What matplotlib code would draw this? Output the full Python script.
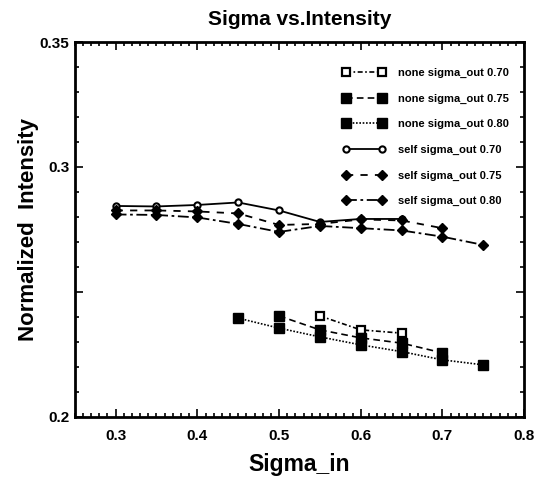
# Sigma vs. Intensity - normalized intensity against sigma_in

import matplotlib.pyplot as plt
from matplotlib.ticker import MultipleLocator

plt.rcParams['font.family'] = ['Liberation Sans', 'DejaVu Sans']
plt.rcParams['font.weight'] = 'bold'

# none (no correction) series
none_x_070 = [0.55, 0.60, 0.65]
none_y_070 = [0.2404, 0.2348, 0.2335]
none_x_075 = [0.50, 0.55, 0.60, 0.65, 0.70]
none_y_075 = [0.2404, 0.2348, 0.2316, 0.2295, 0.2256]
none_x_080 = [0.45, 0.50, 0.55, 0.60, 0.65, 0.70, 0.75]
none_y_080 = [0.2395, 0.2355, 0.2320, 0.2288, 0.2261, 0.2228, 0.2208]

# self series
self_x_070 = [0.30, 0.35, 0.40, 0.45, 0.50, 0.55, 0.60, 0.65]
self_y_070 = [0.2844, 0.2842, 0.2848, 0.2858, 0.2826, 0.2780, 0.2792, 0.2792]
self_x_075 = [0.30, 0.35, 0.40, 0.45, 0.50, 0.55, 0.60, 0.65, 0.70]
self_y_075 = [0.2826, 0.2826, 0.2822, 0.2814, 0.2768, 0.2772, 0.2790, 0.2786, 0.2755]
self_x_080 = [0.30, 0.35, 0.40, 0.45, 0.50, 0.55, 0.60, 0.65, 0.70, 0.75]
self_y_080 = [0.2810, 0.2808, 0.2798, 0.2772, 0.2740, 0.2764, 0.2755, 0.2746, 0.2721, 0.2688]

labels = ['none sigma_out 0.70', 'none sigma_out 0.75', 'none sigma_out 0.80',
          'self sigma_out 0.70', 'self sigma_out 0.75', 'self sigma_out 0.80']

fig = plt.figure(figsize=(5.42, 4.78), dpi=100)
ax = fig.add_axes([0.138, 0.128, 0.829, 0.784])

k = 'black'
ax.plot(none_x_070, none_y_070, color=k, lw=1.2, ls=(0, (3, 1.5, 1, 1.5)), marker='s',
        ms=5.5, mfc='white', mec=k, mew=1.6, label=labels[0])
ax.plot(none_x_075, none_y_075, color=k, lw=1.2, ls=(0, (4, 2.5)), marker='s',
        ms=7, mfc=k, mec=k, label=labels[1])
ax.plot(none_x_080, none_y_080, color=k, lw=1.2, ls=(0, (1, 1)), marker='s',
        ms=7, mfc=k, mec=k, label=labels[2])
ax.plot(self_x_070, self_y_070, color=k, lw=1.3, ls='-', marker='o',
        ms=4.5, mfc='white', mec=k, mew=1.5, label=labels[3])
ax.plot(self_x_075, self_y_075, color=k, lw=1.3, ls=(0, (4, 4)), marker='D',
        ms=5, mfc=k, mec=k, label=labels[4])
ax.plot(self_x_080, self_y_080, color=k, lw=1.3, ls=(0, (6, 2, 1.5, 2)), marker='D',
        ms=5, mfc=k, mec=k, label=labels[5])

ax.set_xlim(0.25, 0.8)
ax.set_ylim(0.2, 0.35)
ax.set_xticks([0.3, 0.4, 0.5, 0.6, 0.7, 0.8])
ax.set_xticklabels(['0.3', '0.4', '0.5', '0.6', '0.7', '0.8'])
ax.set_yticks([0.2, 0.25, 0.3, 0.35])
ax.set_yticklabels(['0.2', '', '0.3', '0.35'])
ax.xaxis.set_minor_locator(MultipleLocator(0.01))
ax.yaxis.set_minor_locator(MultipleLocator(0.01))
ax.tick_params(which='both', direction='in', top=True, right=True, width=1.2)
ax.tick_params(which='major', length=6, labelsize=11)
ax.tick_params(which='minor', length=3)
ax.tick_params(axis='x', pad=9)
ax.tick_params(axis='y', pad=4)
for lab in ax.get_xticklabels() + ax.get_yticklabels():
    lab.set_fontweight('bold')
for sp in ax.spines.values():
    sp.set_linewidth(2)

ax.set_title('Sigma vs.Intensity', fontsize=15, fontweight='bold', pad=12)
ax.set_xlabel('Sigma_in', fontsize=16.5, fontweight='bold', labelpad=7)
ax.set_ylabel('Normalized  Intensity', fontsize=16, fontweight='bold', labelpad=0)

leg = ax.legend(loc='upper left', bbox_to_anchor=(0.575, 0.958), frameon=False,
                fontsize=8, numpoints=2, handlelength=3.8, labelspacing=1.4,
                handletextpad=1.1)
for t in leg.get_texts():
    t.set_fontweight('bold')

fig.savefig('out.png', dpi=100)
